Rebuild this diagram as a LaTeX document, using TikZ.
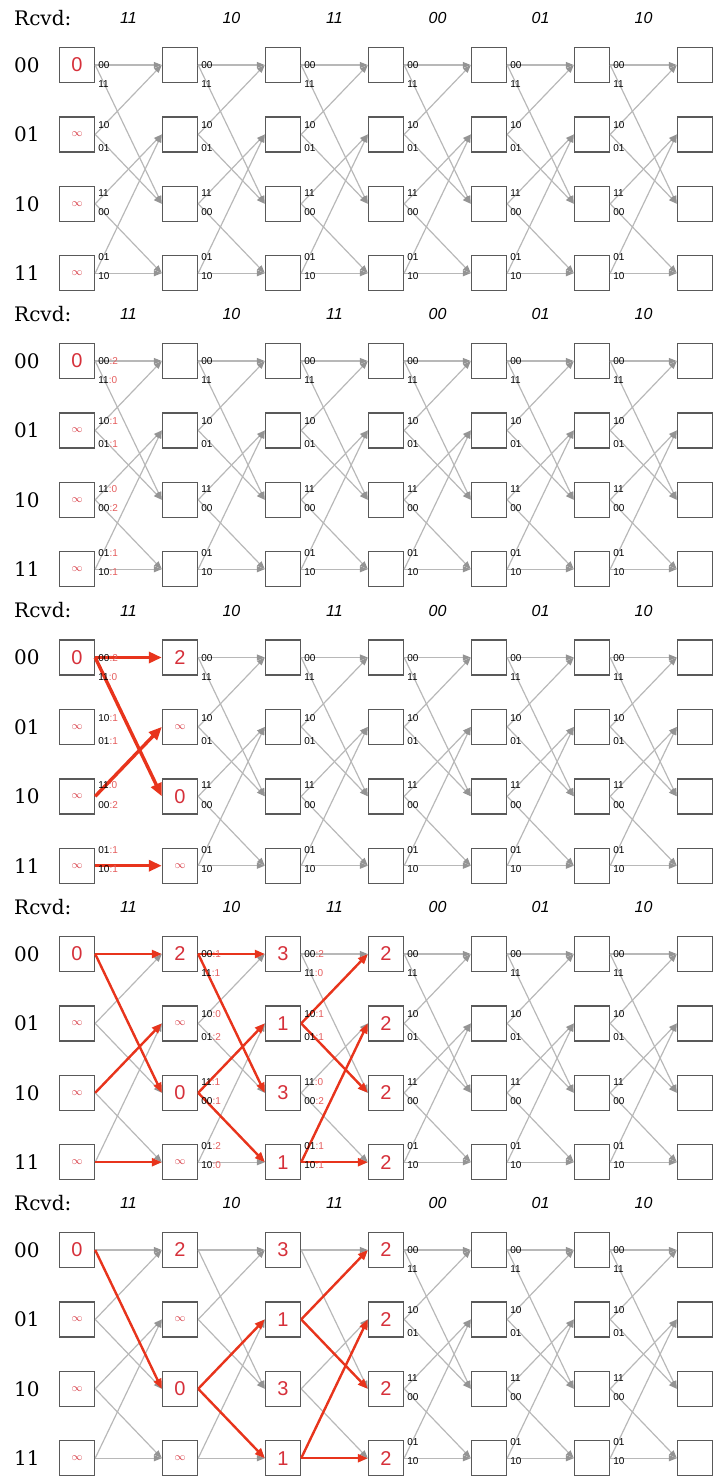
\documentclass[tikz,border=0pt]{standalone}
\usepackage{fontspec}
\setmainfont{DejaVu Serif}
\newfontfamily\arialfont{Liberation Sans}
\usetikzlibrary{arrows.meta, calc}

\definecolor{pathred}{RGB}{232,52,28}
\definecolor{metricred}{RGB}{214,48,58}
\definecolor{costred}{RGB}{228,92,92}
\newcommand{\cost}[1]{\textcolor{costred}{#1}}

\begin{document}
\begin{tikzpicture}[x=1pt, y=-1pt,
    stbox/.style={draw=black!65, line width=1.4pt, fill=white, minimum width=35pt, minimum height=35pt, inner sep=0pt},
    metric/.style={font=\arialfont\fontsize{20}{20}\selectfont, text=metricred, inner sep=0pt},
    inf/.style={font=\fontsize{11}{11}\selectfont, text=metricred, inner sep=0pt},
    state/.style={anchor=west, inner sep=0pt, font=\fontsize{20}{20}\selectfont},
    rcvd/.style={anchor=west, inner sep=0pt, font=\fontsize{20}{20}\selectfont},
    bits/.style={inner sep=0pt, font=\arialfont\itshape\fontsize{16}{16}\selectfont},
    code/.style={anchor=west, inner sep=0pt, font=\arialfont\fontsize{10}{10}\selectfont},
    branch/.style={draw=black!28, line width=1.2pt, -{Triangle[length=8pt, width=6pt, color=black!42]}},
    survivor/.style={draw=pathred, line width=2.4pt, -{Triangle[length=10pt, width=8pt]}},
    survivorthick/.style={survivor, line width=3.4pt, -{Triangle[length=13pt, width=11pt]}},
]
\useasboundingbox (0,0) rectangle (718,1476);

% five copies of the trellis, one below the other
\foreach \p/\py in {1/65, 2/361, 3/657.5, 4/954, 5/1250} {
    \node[rcvd] (rcvd-\p) at (14,\py-47) {Rcvd:};
    \foreach \bits [count=\c] in {11,10,11,00,01,10}
        \node[bits] (in-\p-\c) at (25.5+103*\c,\py-47) {\bits};
    \foreach \st [count=\r from 0] in {00,01,10,11} {
        \node[state] (st-\p-\r) at (14,\py+69.4*\r) {\st};
        \foreach \c in {1,...,7}
            \node[stbox] (b-\p-\c-\r) at (103*\c-26,\py+69.4*\r) {};
    }
}

% all branches in grey
\foreach \p/\from in {1/1, 2/1, 3/2, 4/1, 5/1}
    \foreach \c in {\from,...,6} {
        \pgfmathtruncatemacro{\nx}{\c+1}
        \foreach \r/\s in {0/0, 0/2, 1/0, 1/2, 2/1, 2/3, 3/1, 3/3}
            \draw[branch] (b-\p-\c-\r.east) -- (b-\p-\nx-\s.west);
    }

% survivors
\foreach \r/\s in {0/0, 0/2, 2/1, 3/3}
    \draw[survivorthick] (b-3-1-\r.east) -- (b-3-2-\s.west);
\foreach \p/\c/\r/\s in {4/1/0/0, 4/1/0/2, 4/1/2/1, 4/1/3/3,
                         4/2/0/0, 4/2/0/2, 4/2/2/1, 4/2/2/3,
                         4/3/1/0, 4/3/1/2, 4/3/3/1, 4/3/3/3,
                         5/1/0/2, 5/2/2/1, 5/2/2/3,
                         5/3/1/0, 5/3/1/2, 5/3/3/1, 5/3/3/3} {
    \pgfmathtruncatemacro{\nx}{\c+1}
    \draw[survivor] (b-\p-\c-\r.east) -- (b-\p-\nx-\s.west);
}

% path metrics
\foreach \p in {1,...,5} {
    \node[metric] (m-\p-1-0) at (b-\p-1-0) {0};
    \foreach \r in {1,2,3}
        \node[inf] (m-\p-1-\r) at (b-\p-1-\r) {$\infty$};
}
\foreach \p in {3,4,5} {
    \node[metric] (m-\p-2-0) at (b-\p-2-0) {2};
    \node[inf] (m-\p-2-1) at (b-\p-2-1) {$\infty$};
    \node[metric] (m-\p-2-2) at (b-\p-2-2) {0};
    \node[inf] (m-\p-2-3) at (b-\p-2-3) {$\infty$};
}
\foreach \p in {4,5} {
    \foreach \r/\v in {0/3, 1/1, 2/3, 3/1}
        \node[metric] (m-\p-3-\r) at (b-\p-3-\r) {\v};
    \foreach \r in {0,...,3}
        \node[metric] (m-\p-4-\r) at (b-\p-4-\r) {2};
}

% branch outputs
\foreach \p/\from in {1/1, 2/2, 3/2, 4/4, 5/4}
    \foreach \c in {\from,...,6}
        \foreach \r/\ca/\cb/\ya/\yb in {0/00/11/0.5/19.5, 1/10/01/-9/14, 2/11/00/-11/8.5, 3/01/10/-16/3} {
            \node[code] (u-\p-\c-\r) at ($(b-\p-\c-\r.east)+(3,\ya)$) {\ca};
            \node[code] (l-\p-\c-\r) at ($(b-\p-\c-\r.east)+(3,\yb)$) {\cb};
        }

% branch outputs with distance to the received pair
\foreach \p/\c in {2/1, 3/1, 4/3}
    \foreach \r/\ca/\na/\cb/\nb/\ya/\yb in {0/00/2/11/0/0.5/19.5, 1/10/1/01/1/-9/14, 2/11/0/00/2/-11/8.5, 3/01/1/10/1/-16/3} {
        \node[code] (u-\p-\c-\r) at ($(b-\p-\c-\r.east)+(3,\ya)$) {\ca\cost{:\na}};
        \node[code] (l-\p-\c-\r) at ($(b-\p-\c-\r.east)+(3,\yb)$) {\cb\cost{:\nb}};
    }
\foreach \r/\ca/\na/\cb/\nb/\ya/\yb in {0/00/1/11/1/0.5/19.5, 1/10/0/01/2/-9/14, 2/11/1/00/1/-11/8.5, 3/01/2/10/0/-16/3} {
    \node[code] (u-4-2-\r) at ($(b-4-2-\r.east)+(3,\ya)$) {\ca\cost{:\na}};
    \node[code] (l-4-2-\r) at ($(b-4-2-\r.east)+(3,\yb)$) {\cb\cost{:\nb}};
}
\end{tikzpicture}
\end{document}
